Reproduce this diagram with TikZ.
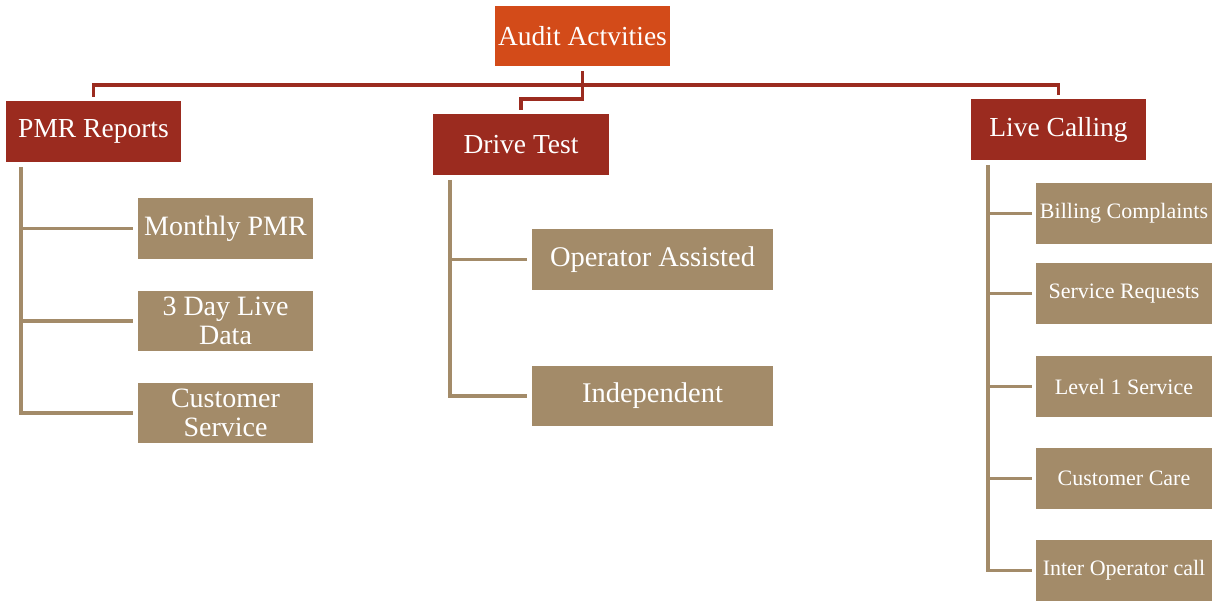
\documentclass[tikz,border=0pt]{standalone}
\usepackage{fontspec}
\setmainfont{Liberation Serif}
\usetikzlibrary{calc}
\definecolor{auditorange}{HTML}{D34B19}
\definecolor{headred}{HTML}{9B2B1F}
\definecolor{tan}{HTML}{A38B69}
\tikzset{
  topbox/.style={fill=auditorange, text=white, minimum width=175pt, minimum height=60pt, inner sep=0pt, align=center, font=\fontsize{27.5}{30}\selectfont},
  headbox/.style={fill=headred, text=white, minimum width=175pt, minimum height=61pt, inner sep=0pt, align=center, font=\fontsize{27.5}{30}\selectfont},
  leafbox/.style={fill=tan, text=white, minimum width=175pt, minimum height=61pt, inner sep=0pt, align=center, font=\fontsize{28}{29.5}\selectfont},
  wideleaf/.style={leafbox, minimum width=241pt, font=\fontsize{28.5}{30}\selectfont},
  smallleaf/.style={leafbox, minimum width=176pt, font=\fontsize{22}{24}\selectfont},
  redline/.style={draw=headred, line width=3.5pt, line join=miter},
  tanline/.style={draw=tan, line width=3.5pt, line join=miter}
}
\begin{document}
\begin{tikzpicture}[x=1pt,y=-1pt]
\useasboundingbox (0,0) rectangle (1222,601);
% nodes
\node[topbox] (audit) at (582.5,36) {Audit Actvities};
\node[headbox] (pmr) at (93.5,131.5) {PMR Reports};
\node[headbox, minimum width=176pt] (drive) at (521,144.5) {Drive Test};
\node[headbox] (live) at (1058.5,129.5) {Live Calling};
\node[leafbox] (monthly) at (225.5,228.5) {Monthly PMR};
\node[leafbox, minimum height=60pt] (threeday) at (225.5,321) {3 Day Live\\Data};
\node[leafbox, minimum height=60pt] (custserv) at (225.5,413) {Customer\\Service};
\node[wideleaf] (opassist) at (652.5,259.5) {Operator Assisted};
\node[wideleaf, minimum height=60pt] (indep) at (652.5,396) {Independent};
\node[smallleaf] (billing) at (1124,213.5) {Billing Complaints};
\node[smallleaf] (servreq) at (1124,293.5) {Service Requests};
\node[smallleaf] (level) at (1124,386.5) {Level 1 Service};
\node[smallleaf] (custcare) at (1124,478.5) {Customer Care};
\node[smallleaf] (inter) at (1124,570.5) {Inter Operator call};
% red connectors
\coordinate (bar) at (0,85);
\coordinate (bartwo) at (0,99);
\draw[redline] ([yshift=-5pt]audit.south) -- (audit.south |- bartwo) -| ([yshift=4pt]drive.north);
\draw[redline] ([yshift=4pt]pmr.north) -- (pmr.north |- bar) -| ([yshift=4pt]live.north);
% tan connectors: PMR
\coordinate (pmrtrunk) at (21,167);
\draw[tanline] (pmrtrunk) |- ([xshift=-5pt]custserv.west);
\draw[tanline] (pmrtrunk |- monthly.west) -- ([xshift=-5pt]monthly.west);
\draw[tanline] (pmrtrunk |- threeday.west) -- ([xshift=-5pt]threeday.west);
% Drive test
\coordinate (drivetrunk) at (450,180);
\draw[tanline] (drivetrunk) |- ([xshift=-5pt]indep.west);
\draw[tanline] (drivetrunk |- opassist.west) -- ([xshift=-5pt]opassist.west);
% Live calling
\coordinate (livetrunk) at (988,165);
\draw[tanline] (livetrunk) |- ([xshift=-4pt]inter.west);
\draw[tanline] (livetrunk |- billing.west) -- ([xshift=-4pt]billing.west);
\draw[tanline] (livetrunk |- servreq.west) -- ([xshift=-4pt]servreq.west);
\draw[tanline] (livetrunk |- level.west) -- ([xshift=-4pt]level.west);
\draw[tanline] (livetrunk |- custcare.west) -- ([xshift=-4pt]custcare.west);
\end{tikzpicture}
\end{document}
